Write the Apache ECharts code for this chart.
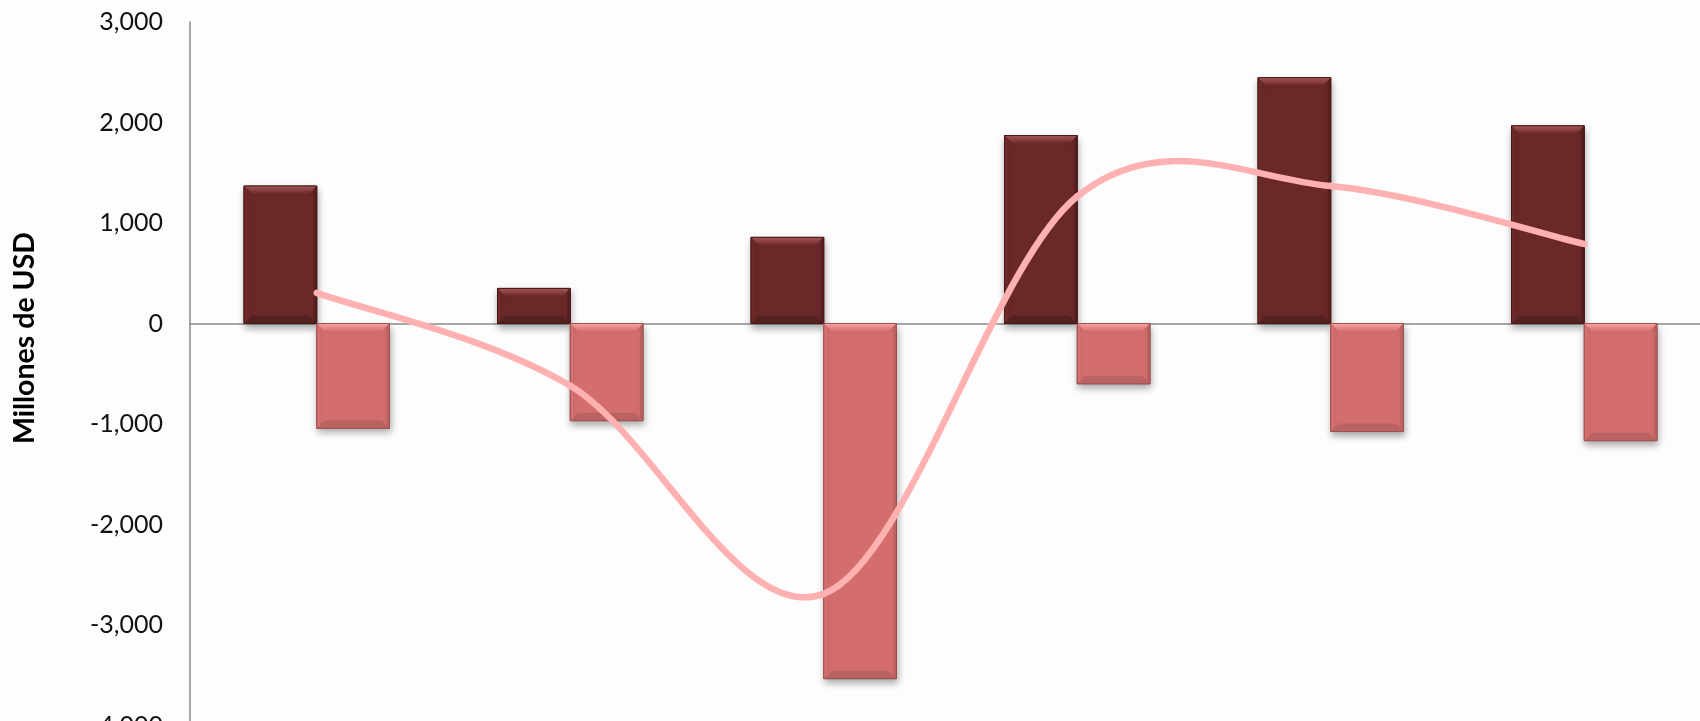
<!DOCTYPE html>
<html>
<head>
<meta charset="utf-8">
<script src="https://cdn.jsdelivr.net/npm/echarts@6/dist/echarts.min.js"></script>
<style>
html,body{margin:0;padding:0;background:#fdfdfd;}
#chart{width:1700px;height:721px;}
</style>
</head>
<body>
<div id="chart"></div>
<script>
// ---- data ----
const categories = ['P1', 'P2', 'P3', 'P4', 'P5', 'P6'];
const inflows  = [1368, 349, 857, 1870, 2446, 1967];
const outflows = [-1043, -967, -3534, -600, -1075, -1166];
const netLine  = [305, -620, -2690, 1265, 1368, 792];
const yTicks   = { min: -4000, max: 3000, step: 1000 };
const axisTitle = 'Millones de USD';

const chart = echarts.init(document.getElementById('chart'), null, { renderer: 'canvas' });

const darkColors  = { main: '#6b2828', top: '#a65858', bottom: '#552020', left: '#6e2a2a', right: '#561f1f', border: '#4a1818' };
const lightColors = { main: '#d46e6e', top: '#f5a4a4', bottom: '#bb6262', left: '#d67171', right: '#bc6161', border: '#9c5252' };

function bevelBar(side, col) {
  return function (params, api) {
    const idx = api.value(0), val = api.value(1);
    const base = api.coord([idx, 0]);
    const top = api.coord([idx, val]);
    const catW = api.size([1, 0])[0];
    const w = catW * 0.287;
    const x0 = side < 0 ? base[0] - w : base[0];
    const y0 = Math.min(base[1], top[1]);
    const h = Math.abs(top[1] - base[1]);
    const b = Math.min(8, h / 2, w / 2);
    const s = 3;
    const x1 = x0 + w, y1 = y0 + h;
    return {
      type: 'group',
      children: [
        { type: 'rect', shape: { x: x0, y: y0, width: w, height: h },
          style: { fill: col.main, stroke: col.border, lineWidth: 1,
                   shadowBlur: 7, shadowOffsetY: 4, shadowOffsetX: 1, shadowColor: 'rgba(0,0,0,0.33)' } },
        { type: 'polygon', shape: { points: [[x0, y0], [x1, y0], [x1 - b, y0 + b], [x0 + b, y0 + b]] },
          style: { fill: new echarts.graphic.LinearGradient(0, 0, 0, 1, [{ offset: 0, color: col.top }, { offset: 1, color: col.main }]) } },
        { type: 'polygon', shape: { points: [[x0, y1], [x1, y1], [x1 - b, y1 - b], [x0 + b, y1 - b]] },
          style: { fill: col.bottom } },
        { type: 'polygon', shape: { points: [[x0, y0], [x0 + s, y0 + s], [x0 + s, y1 - s], [x0, y1]] },
          style: { fill: col.left } },
        { type: 'polygon', shape: { points: [[x1, y0], [x1 - s, y0 + s], [x1 - s, y1 - s], [x1, y1]] },
          style: { fill: col.right } },
        { type: 'rect', shape: { x: x0, y: y0, width: w, height: h },
          style: { fill: 'none', stroke: col.border, lineWidth: 1 } }
      ]
    };
  };
}

function smoothSegment(params, api) {
  const i = params.dataIndex;
  const n = netLine.length;
  if (i >= n - 1) return null;
  const P = k => { const j = Math.max(0, Math.min(n - 1, k)); return api.coord([j, netLine[j]]); };
  const p0 = P(i - 1), p1 = P(i), p2 = P(i + 1), p3 = P(i + 2);
  return {
    type: 'bezierCurve',
    shape: {
      x1: p1[0], y1: p1[1], x2: p2[0], y2: p2[1],
      cpx1: p1[0] + (p2[0] - p0[0]) / 6, cpy1: p1[1] + (p2[1] - p0[1]) / 6,
      cpx2: p2[0] - (p3[0] - p1[0]) / 6, cpy2: p2[1] - (p3[1] - p1[1]) / 6
    },
    style: { fill: 'none', stroke: '#ffb0b0', lineWidth: 6.5, lineCap: 'round' }
  };
}

const option = {
  backgroundColor: '#fdfdfd',
  animation: false,
  grid: { left: 190, top: 22, width: 1521, height: 703.5, containLabel: false, outerBoundsMode: 'none' },
  graphic: [{
    type: 'text',
    x: 25, y: 338,
    rotation: Math.PI / 2,
    style: {
      text: axisTitle,
      fontFamily: 'Lato', fontWeight: 'bold', fontSize: 28.5, fill: '#000',
      align: 'center', verticalAlign: 'middle'
    }
  }],
  xAxis: {
    type: 'category',
    data: categories,
    boundaryGap: true,
    axisLine: { show: true, onZero: true, lineStyle: { color: '#8a8a8a', width: 1.5 } },
    axisTick: { show: false },
    axisLabel: { show: false },
    splitLine: { show: false }
  },
  yAxis: {
    type: 'value',
    min: yTicks.min, max: yTicks.max, interval: yTicks.step,
    axisLine: { show: true, lineStyle: { color: '#8a8a8a', width: 1.5 } },
    axisTick: { show: false },
    splitLine: { show: false },
    axisLabel: {
      margin: 27,
      fontFamily: 'Lato', fontSize: 25, color: '#111',
      formatter: v => (v < 0 ? '-' : '') + Math.abs(v).toLocaleString('en-US')
    }
  },
  series: [
    { type: 'custom', name: 'inflows', renderItem: bevelBar(-1, darkColors), encode: { x: 0, y: 1 },
      data: inflows.map((v, i) => [i, v]), z: 2 },
    { type: 'custom', name: 'outflows', renderItem: bevelBar(1, lightColors), encode: { x: 0, y: 1 },
      data: outflows.map((v, i) => [i, v]), z: 2 },
    { type: 'custom', name: 'net', renderItem: smoothSegment, encode: { x: 0, y: 1 },
      data: netLine.map((v, i) => [i, v]), z: 5 }
  ]
};
chart.setOption(option);
</script>
</body>
</html>
